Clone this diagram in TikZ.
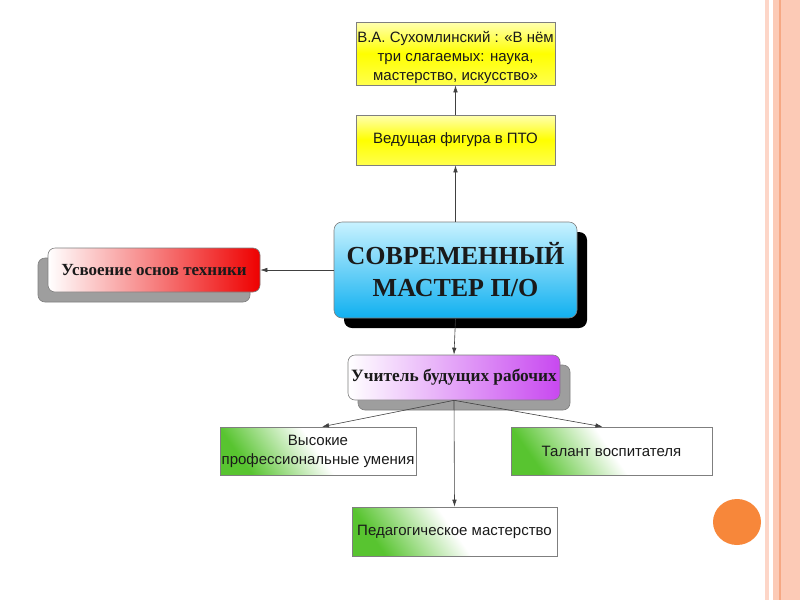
\documentclass[tikz,border=0pt]{standalone}
\usepackage{fontspec}
\setmainfont{Liberation Sans}
\newfontfamily\serifb{Liberation Serif}
\usetikzlibrary{shadows,arrows.meta}
\definecolor{boxline}{HTML}{7F7F7F}
\definecolor{ylw}{HTML}{FFFF00}
\definecolor{ylwpale}{HTML}{FFFFB0}
\definecolor{cyantop}{HTML}{C8F2FF}
\definecolor{cyanbot}{HTML}{10B0F0}
\definecolor{redr}{HTML}{EE0000}
\definecolor{purp}{HTML}{C848F0}
\definecolor{grn}{HTML}{58C430}
\definecolor{stripe}{HTML}{FCCAB6}
\definecolor{stripedark}{HTML}{F6A884}
\definecolor{stripelight}{HTML}{FDD6C8}
\definecolor{orng}{HTML}{F7873A}
\definecolor{txt}{HTML}{1A1A1A}
\begin{document}
\begin{tikzpicture}[x=1pt,y=-1pt,
  base/.style={draw=boxline, line width=0.6pt, align=center, text=txt, inner sep=1pt},
  ybox/.style={base, top color=ylwpale, bottom color=ylw!70, middle color=ylw, font=\fontsize{15}{19}\selectfont, minimum width=199pt},
  gbox/.style={base, bottom color=grn, top color=white, middle color=white, shading angle=-55, font=\fontsize{15}{19}\selectfont, minimum height=48pt},
  arr/.style={draw=black!75, line width=0.6pt, -{Latex[length=7pt,width=4.5pt]}}
]
\useasboundingbox (0,0) rectangle (800,600);
\fill[white] (0,0) rectangle (800,600);
% right decorative stripes
\fill[stripelight] (765,0) rectangle (768.5,600);
\fill[stripe] (773,0) rectangle (800,600);
\fill[stripedark] (778.5,0) rectangle (780.5,600);
% orange circle
\fill[orng] (737,522) ellipse [x radius=24, y radius=23];

% nodes
\node[ybox, minimum height=63pt] (quote) at (455.5,53.5)
  {\rule{0pt}{19pt}В.А. Сухомлинский : «В нём\\три слагаемых: наука,\\мастерство, искусство»};
\node[ybox, minimum height=50pt] (lead) at (455.5,140) {Ведущая фигура в ПТО};

\node[base, rounded corners=8pt, top color=cyantop, bottom color=cyanbot,
  minimum width=243pt, minimum height=96pt,
  drop shadow={shadow xshift=10pt, shadow yshift=-10pt, fill=black, opacity=1},
  font=\serifb\bfseries\fontsize{26}{32}\selectfont] (master) at (455.5,270)
  {СОВРЕМЕННЫЙ\\МАСТЕР П/О};

\node[base, rounded corners=7pt, left color=white, right color=redr,
  minimum width=212pt, minimum height=44pt,
  drop shadow={shadow xshift=-10pt, shadow yshift=-10pt, fill=black!38, draw=black!50, opacity=1},
  font=\serifb\bfseries\fontsize{17}{19}\selectfont] (tech) at (154,270)
  {Усвоение основ техники};

\node[base, rounded corners=7pt, left color=white, right color=purp,
  minimum width=212pt, minimum height=45pt,
  drop shadow={shadow xshift=10pt, shadow yshift=-10pt, fill=black!38, draw=black!50, opacity=1},
  font=\serifb\bfseries\fontsize{17.3}{19}\selectfont] (teach) at (454,377.5)
  {Учитель будущих рабочих};

\node[gbox, minimum width=196pt] (skill) at (318,451) {Высокие\\профессиональные умения};
\node[gbox, minimum width=201pt] (talent) at (611.5,451) {Талант воспитателя};
\node[gbox, minimum width=205pt, minimum height=49pt] (ped) at (454.5,531.5) {Педагогическое мастерство};

% connectors
\draw[arr] (lead.north) -- (quote.south);
\draw[arr] (master.north) -- (lead.south);
\draw[arr] (master.west) -- (tech.east);
\draw[arr] (master.south) -- (teach.north);
\draw[arr] (teach.south) -- ([xshift=4pt]skill.north);
\draw[arr] (teach.south) -- ([xshift=-9pt]talent.north);
\draw[arr] (teach.south) -- (ped.north);
\end{tikzpicture}
\end{document}
